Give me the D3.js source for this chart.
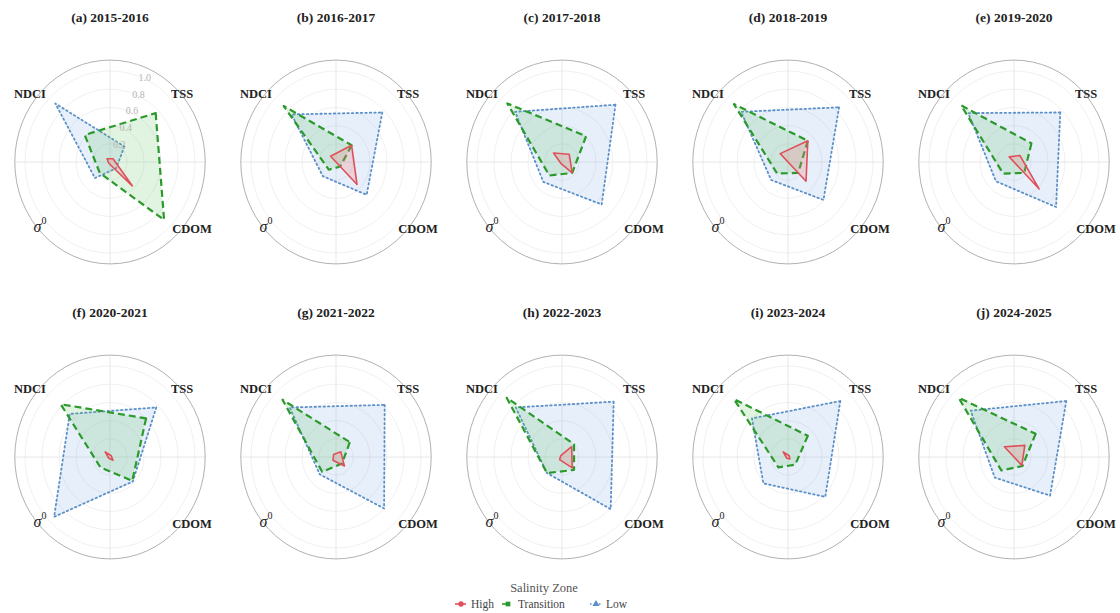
<!DOCTYPE html>
<html>
<head>
<meta charset="utf-8">
<script src="https://cdn.jsdelivr.net/npm/d3@7"></script>
<style>
  body { margin: 0; background: #fff; }
  svg { display: block; font-family: "Liberation Serif", "Times New Roman", serif; }
</style>
</head>
<body>
<div id="chart"></div>
<script>
// axes order: clockwise from the top-right
const axes = ["TSS", "CDOM", "σ", "NDCI"];
const panelTitles = ["(a) 2015-2016", "(b) 2016-2017", "(c) 2017-2018", "(d) 2018-2019", "(e) 2019-2020",
                     "(f) 2020-2021", "(g) 2021-2022", "(h) 2022-2023", "(i) 2023-2024", "(j) 2024-2025"];
const zones = ["High", "Transition", "Low"];
const radialTicks = [0.2, 0.4, 0.6, 0.8, 1.0];

// values per panel: [TSS, CDOM, sigma0, NDCI]
const highVals = [
  [0.05, 0.37, 0.02, 0.05],
  [0.26, 0.35, 0.00, 0.09],
  [0.12, 0.17, 0.02, 0.14],
  [0.33, 0.30, 0.00, 0.13],
  [0.10, 0.42, 0.00, 0.08],
  [0.02, 0.05, 0.02, 0.08],
  [0.08, 0.14, 0.05, 0.04],
  [0.16, 0.17, 0.04, 0.02],
  [0.02, 0.03, 0.02, 0.08],
  [0.18, 0.13, 0.00, 0.16]
];
const transitionVals = [
  [0.76, 0.90, 0.17, 0.42],
  [0.26, 0.07, 0.12, 0.87],
  [0.40, 0.17, 0.21, 0.91],
  [0.33, 0.17, 0.18, 0.90],
  [0.29, 0.17, 0.18, 0.88],
  [0.60, 0.37, 0.16, 0.82],
  [0.23, 0.10, 0.23, 0.89],
  [0.20, 0.20, 0.25, 0.92],
  [0.33, 0.12, 0.16, 0.90],
  [0.36, 0.14, 0.21, 0.92]
];
const lowVals = [
  [0.24, 0.10, 0.25, 0.91],
  [0.77, 0.51, 0.22, 0.74],
  [0.89, 0.66, 0.31, 0.78],
  [0.85, 0.59, 0.28, 0.78],
  [0.77, 0.70, 0.30, 0.76],
  [0.77, 0.38, 0.93, 0.67],
  [0.81, 0.80, 0.27, 0.77],
  [0.86, 0.81, 0.25, 0.77],
  [0.87, 0.62, 0.41, 0.60],
  [0.87, 0.60, 0.32, 0.72]
];

const width = 1120, height = 613;
const colors = {High: "#e0505a", Transition: "#2b9a2b", Low: "#5b8fc9"};
const fills = {High: "rgba(240,120,125,0.25)", Transition: "rgba(90,190,90,0.18)", Low: "rgba(120,170,225,0.18)"};
const dashes = {High: null, Transition: "7,4", Low: "1.5,3"};
const widths = {High: 1.6, Transition: 2.2, Low: 1.8};
const seriesVals = {High: highVals, Transition: transitionVals, Low: lowVals};

const svg = d3.select("#chart").append("svg")
  .attr("width", width)
  .attr("height", height)
  .attr("viewBox", `0 0 ${width} ${height}`);

//
// Scales
//
const colX = d3.scaleLinear().domain([0, 4]).range([110, 1014]);
const rowY = d3.scaleLinear().domain([0, 1]).range([162, 457]);
const rX = d3.scaleLinear().domain([0, 1]).range([0, 85]);
const rY = d3.scaleLinear().domain([0, 1]).range([0, 91]);
const outer = 1.12;
const angle = d3.scaleLinear().domain([0, axes.length]).range([Math.PI / 4, Math.PI / 4 + 2 * Math.PI]);

const px = (i, v) => Math.sin(angle(i)) * rX(v);
const py = (i, v) => -Math.cos(angle(i)) * rY(v);

const line = d3.line()
  .x((d, i) => px(i, d))
  .y((d, i) => py(i, d))
  .curve(d3.curveLinearClosed);

panelTitles.forEach((title, p) => {
  const cx = colX(p % 5), cy = rowY(Math.floor(p / 5));
  const g = svg.append("g").attr("transform", `translate(${cx},${cy})`);

  // title
  svg.append("text")
    .attr("x", cx).attr("y", cy - 140)
    .attr("text-anchor", "middle")
    .attr("font-size", 13.5).attr("font-weight", "bold")
    .attr("fill", "#222")
    .text(title);

  // grid
  g.selectAll(".ring").data(radialTicks).enter().append("ellipse")
    .attr("rx", d => rX(d)).attr("ry", d => rY(d))
    .attr("fill", "none").attr("stroke", "#ececec").attr("stroke-width", 0.8);
  g.append("line").attr("x1", 0).attr("x2", 0).attr("y1", -rY(outer)).attr("y2", rY(outer))
    .attr("stroke", "#e2e2e2").attr("stroke-width", 0.8);
  g.append("line").attr("y1", 0).attr("y2", 0).attr("x1", -rX(outer)).attr("x2", rX(outer))
    .attr("stroke", "#e2e2e2").attr("stroke-width", 0.8);
  g.append("ellipse").attr("rx", rX(outer)).attr("ry", rY(outer))
    .attr("fill", "none").attr("stroke", "#a8a8a8").attr("stroke-width", 0.9);

  // series, low first so high ends up on top
  ["Low", "Transition", "High"].forEach(z => {
    g.append("path")
      .datum(seriesVals[z][p])
      .attr("d", line)
      .attr("fill", fills[z])
      .attr("stroke", colors[z])
      .attr("stroke-width", widths[z])
      .attr("stroke-dasharray", dashes[z])
      .attr("stroke-linejoin", "round")
      .attr("stroke-linecap", z === "Low" ? "round" : "butt");
  });

  if (p === 0) {
    const la = 22 * Math.PI / 180;
    g.selectAll(".rlab").data(radialTicks).enter().append("text")
      .attr("x", d => Math.sin(la) * rX(d) + 3)
      .attr("y", d => -Math.cos(la) * rY(d) + 3)
      .attr("text-anchor", "middle")
      .attr("font-size", 10).attr("fill", "#b5b5b5")
      .text(d => d.toFixed(1));
  }

  // axis labels
  const labOff = [[72, -67], [82, 68], [-70, 66], [-80, -67]];
  axes.forEach((a, i) => {
    const t = g.append("text")
      .attr("x", labOff[i][0]).attr("y", labOff[i][1])
      .attr("text-anchor", "middle").attr("dominant-baseline", "middle")
      .attr("font-size", 12.5).attr("fill", "#222");
    if (a === "σ") {
      t.append("tspan").attr("font-style", "italic").attr("font-size", 16).text("σ");
      t.append("tspan").attr("font-size", 10).attr("dy", -6).text("0");
    } else {
      t.attr("font-weight", "bold").text(a);
    }
  });
});

//
// Legend
//
svg.append("text")
  .attr("x", 544).attr("y", 592)
  .attr("text-anchor", "middle")
  .attr("font-size", 12.5).attr("fill", "#555")
  .text("Salinity Zone");

const legItems = [
  {z: "High", x: 455, shape: d3.symbolCircle},
  {z: "Transition", x: 502, shape: d3.symbolSquare},
  {z: "Low", x: 590, shape: d3.symbolTriangle}
];
legItems.forEach(it => {
  const lg = svg.append("g").attr("transform", `translate(${it.x},604)`);
  lg.append("line").attr("x1", 0).attr("x2", 11).attr("y1", 0).attr("y2", 0)
    .attr("stroke", colors[it.z]).attr("stroke-width", 1.6)
    .attr("stroke-dasharray", dashes[it.z]);
  lg.append("path").attr("transform", "translate(6,0)")
    .attr("d", d3.symbol().type(it.shape).size(22))
    .attr("fill", colors[it.z]);
  lg.append("text").attr("x", 16).attr("y", 4)
    .attr("font-size", 11.5).attr("fill", "#444")
    .text(it.z);
});
</script>
</body>
</html>
